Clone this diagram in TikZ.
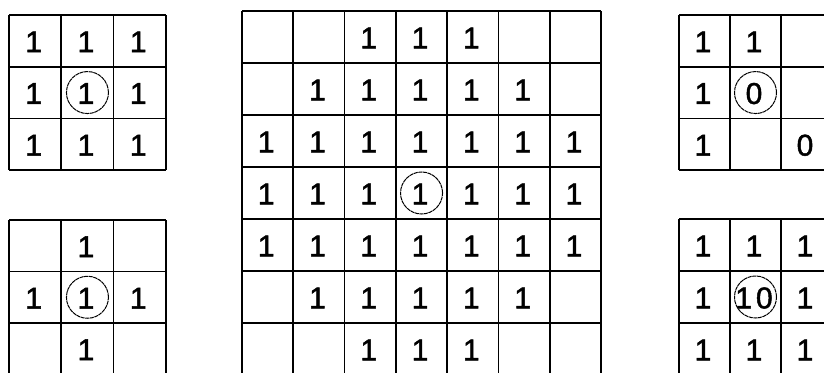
\documentclass[tikz,border=0pt]{standalone}
\usepackage{fontspec}
\setmainfont{Liberation Sans}
\newfontfamily\digfont[FakeBold=1.6]{Liberation Sans}
\begin{document}
\begin{tikzpicture}[x=1pt,y=-1pt,
  gridline/.style={line width=1.7pt,black},
  digit/.style={inner sep=0pt,font=\fontsize{30}{30}\digfont,xshift=-1.5pt,yshift=-1pt},
  ring/.style={draw,circle,minimum size=42pt,line width=1pt,dash pattern=on 4pt off 0.6pt,inner sep=0pt}]
\useasboundingbox (0,0) rectangle (824,372);
\clip (0,0) rectangle (824,372);
\fill[white] (0,0) rectangle (824,372);
% top-left grid
\foreach \i in {0,...,3}{
  \draw[gridline] (9+\i*52.3,15) -- (9+\i*52.3,15+3*51.7);
  \draw[gridline] (9,15+\i*51.7) -- (9+3*52.3,15+\i*51.7);
}
% bottom-left grid
\foreach \i in {0,...,3}{
  \draw[gridline] (9+\i*52.3,220) -- (9+\i*52.3,220+3*51.5);
  \draw[gridline] (9,220+\i*51.5) -- (9+3*52.3,220+\i*51.5);
}
% centre grid
\foreach \i in {0,...,7}{
  \draw[gridline] (242+\i*51.3,11) -- (242+\i*51.3,11+7*52);
  \draw[gridline] (242,11+\i*52) -- (242+7*51.3,11+\i*52);
}
% top-right grid
\foreach \i in {0,...,3}{
  \draw[gridline] (679+\i*51,15) -- (679+\i*51,15+3*51.7);
  \draw[gridline] (679,15+\i*51.7) -- (679+3*51,15+\i*51.7);
}
% bottom-right grid
\foreach \i in {0,...,3}{
  \draw[gridline] (679+\i*51,219) -- (679+\i*51,219+3*52);
  \draw[gridline] (679,219+\i*52) -- (679+3*51,219+\i*52);
}
% top-left contents
\foreach \c/\r in {0/0,1/0,2/0,0/1,1/1,2/1,0/2,1/2,2/2}{
  \node[digit] (tl-\c-\r) at (9+\c*52.3+26.15,15+\r*51.7+25.85) {1};
}
\node[ring] (tlring) at (9+52.3+26.15,15+51.7+25.85) {};
% bottom-left contents
\foreach \c/\r in {1/0,0/1,1/1,2/1,1/2}{
  \node[digit] (bl-\c-\r) at (9+\c*52.3+26.15,220+\r*51.5+25.75) {1};
}
\node[ring] (blring) at (9+52.3+26.15,220+51.5+25.75) {};
% centre contents
\foreach \c/\r in {2/0,3/0,4/0,
                   1/1,2/1,3/1,4/1,5/1,
                   0/2,1/2,2/2,3/2,4/2,5/2,6/2,
                   0/3,1/3,2/3,3/3,4/3,5/3,6/3,
                   0/4,1/4,2/4,3/4,4/4,5/4,6/4,
                   1/5,2/5,3/5,4/5,5/5,
                   2/6,3/6,4/6}{
  \node[digit] (c-\c-\r) at (242+\c*51.3+25.65,11+\r*52+26) {1};
}
\node[ring] (cring) at (242+3*51.3+25.65,11+3*52+26) {};
% top-right contents
\foreach \c/\r in {0/0,1/0,0/1,0/2}{
  \node[digit] (tr-\c-\r) at (679+\c*51+25.5,15+\r*51.7+25.85) {1};
}
\node[digit] (tr-1-1) at (679+51+25.5,15+51.7+25.85) {0};
\node[digit] (tr-2-2) at (679+2*51+25.5,15+2*51.7+25.85) {0};
\node[ring] (trring) at (679+51+25.5,15+51.7+25.85) {};
% bottom-right contents
\foreach \c/\r in {0/0,1/0,2/0,0/1,2/1,0/2,1/2,2/2}{
  \node[digit] (br-\c-\r) at (679+\c*51+25.5,219+\r*52+26) {1};
}
\node[digit] (br-1-1) at (679+51+25.5,219+52+26) {1\kern4pt0};
\node[ring] (brring) at (679+51+25.5,219+52+26) {};
\end{tikzpicture}
\end{document}
